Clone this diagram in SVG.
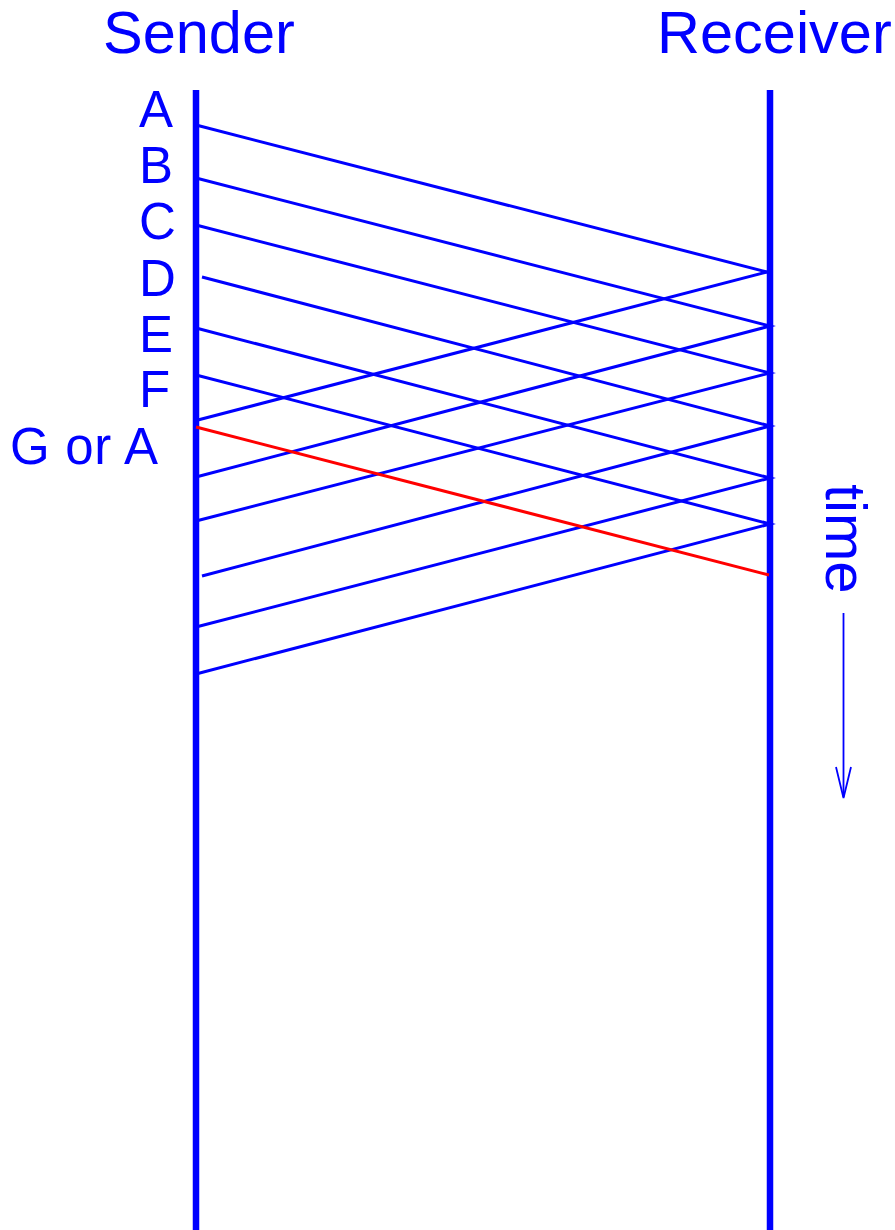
<svg xmlns="http://www.w3.org/2000/svg" width="895" height="1230" viewBox="0 0 895 1230">
<style>
  text { font-family: "Liberation Sans", Arial, sans-serif; fill: #0000ff; }
  .head { font-size: 59.5px; }
  .lbl { font-size: 51px; }
  .time { font-size: 58px; }
  .life { stroke: #0000ff; stroke-width: 6.5; fill: none; }
  .msg { stroke: #0000ff; stroke-width: 3; fill: none; stroke-linejoin: miter; stroke-miterlimit: 10; }
  .lost { stroke: #ff0000; stroke-width: 3; fill: none; }
  .tl { stroke: #0000ff; stroke-width: 1.8; fill: none; }
</style>
<rect width="895" height="1230" fill="#ffffff"/>
<g id="sender">
  <line class="life" x1="196" y1="90" x2="196" y2="1230"/>
  <text class="head" x="103" y="53">Sender</text>
  <text class="lbl" x="139" y="127">A</text>
  <text class="lbl" x="139" y="183">B</text>
  <text class="lbl" x="139" y="239">C</text>
  <text class="lbl" x="139" y="296">D</text>
  <text class="lbl" x="139" y="352">E</text>
  <text class="lbl" x="139" y="407">F</text>
  <text class="lbl" x="10" y="464" textLength="148" lengthAdjust="spacing">G or A</text>
</g>
<g id="receiver">
  <line class="life" x1="770" y1="90" x2="770" y2="1230"/>
  <text class="head" x="657" y="53">Receiver</text>
</g>
<g id="connectors">
  <line class="msg" x1="196" y1="125" x2="767" y2="272"/>
  <line class="msg" x1="767" y1="272" x2="194" y2="421"/>
  <path class="msg" d="M196,178 L770,326 L196,477"/>
  <path class="msg" d="M196,225 L770,373 L196,521"/>
  <path class="msg" d="M202,277 L770,426 L202,576"/>
  <path class="msg" d="M196,328 L770,478 L196,627"/>
  <path class="msg" d="M196,375 L770,524 L196,674"/>
  <line class="lost" x1="196" y1="427" x2="769" y2="575"/>
</g>
<g id="time">
  <text class="time" transform="translate(826,484) rotate(90)">time</text>
  <line class="tl" x1="843.5" y1="613" x2="843.5" y2="797"/>
  <path class="tl" d="M836,767 L843.5,798 L851,767"/>
</g>
</svg>
